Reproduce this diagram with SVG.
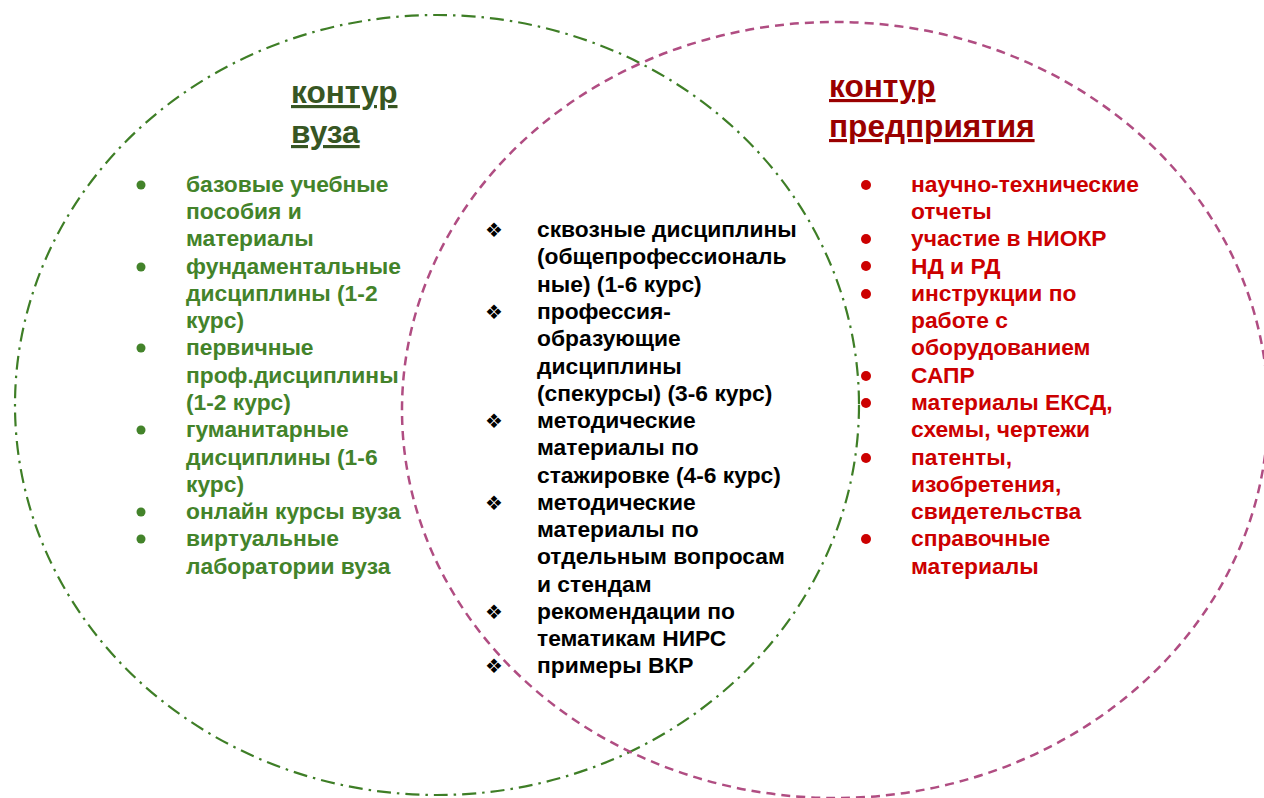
<svg xmlns="http://www.w3.org/2000/svg" width="1264" height="798" viewBox="0 0 1264 798">
<style>
.t{font-family:"Liberation Sans",Arial,sans-serif;font-weight:bold;font-size:22.8px}
.g{fill:#43832A}
.k{fill:#000}
.r{fill:#CC0000}
.title{font-family:"Liberation Sans",Arial,sans-serif;font-weight:bold;font-size:31.6px;text-decoration:underline}
.dia{font-family:"DejaVu Sans",sans-serif;font-size:20px;fill:#000}
</style>
<rect width="1264" height="798" fill="#fff"/>
<g id="contours">
<ellipse id="contour-vuz" cx="437" cy="405" rx="422" ry="390" fill="none" stroke="#3E7E26" stroke-width="2.2" stroke-dasharray="14 6 2.5 6"/>
<ellipse id="contour-pred" cx="835" cy="410" rx="433" ry="388" fill="none" stroke="#B04D82" stroke-width="2.5" stroke-dasharray="9 6"/>
</g>
<g id="node-vuz">
<text class="title" fill="#375623" x="291" y="103">контур</text>
<text class="title" fill="#375623" x="291" y="143">вуза</text>
<g class="t g">
<text x="186" y="192">базовые учебные</text>
<text x="186" y="219">пособия и</text>
<text x="186" y="246">материалы</text>
<text x="186" y="274">фундаментальные</text>
<text x="186" y="301">дисциплины (1-2</text>
<text x="186" y="328">курс)</text>
<text x="186" y="355">первичные</text>
<text x="186" y="383">проф.дисциплины</text>
<text x="186" y="410">(1-2 курс)</text>
<text x="186" y="437">гуманитарные</text>
<text x="186" y="465">дисциплины (1-6</text>
<text x="186" y="492">курс)</text>
<text x="186" y="519">онлайн курсы вуза</text>
<text x="186" y="546">виртуальные</text>
<text x="186" y="574">лаборатории вуза</text>
</g>
<g fill="#43832A">
<circle cx="141" cy="185" r="4.5"/>
<circle cx="141" cy="267" r="4.5"/>
<circle cx="141" cy="348" r="4.5"/>
<circle cx="141" cy="430" r="4.5"/>
<circle cx="141" cy="512" r="4.5"/>
<circle cx="141" cy="539" r="4.5"/>
</g>
</g>
<g id="node-common">
<g class="t k">
<text x="537" y="237">сквозные дисциплины</text>
<text x="537" y="264">(общепрофессиональ</text>
<text x="537" y="292">ные) (1-6 курс)</text>
<text x="537" y="319">профессия-</text>
<text x="537" y="346">образующие</text>
<text x="537" y="374">дисциплины</text>
<text x="537" y="401">(спекурсы) (3-6 курс)</text>
<text x="537" y="428">методические</text>
<text x="537" y="455">материалы по</text>
<text x="537" y="483">стажировке (4-6 курс)</text>
<text x="537" y="510">методические</text>
<text x="537" y="537">материалы по</text>
<text x="537" y="564">отдельным вопросам</text>
<text x="537" y="592">и стендам</text>
<text x="537" y="619">рекомендации по</text>
<text x="537" y="646">тематикам НИРС</text>
<text x="537" y="673">примеры ВКР</text>
</g>
<g class="dia">
<text x="485" y="237">❖</text>
<text x="485" y="319">❖</text>
<text x="485" y="428">❖</text>
<text x="485" y="510">❖</text>
<text x="485" y="619">❖</text>
<text x="485" y="673">❖</text>
</g>
</g>
<g id="node-pred">
<text class="title" fill="#9A0000" x="829" y="97">контур</text>
<text class="title" fill="#9A0000" x="829" y="137">предприятия</text>
<g class="t r">
<text x="911" y="192">научно-технические</text>
<text x="911" y="219">отчеты</text>
<text x="911" y="246">участие в НИОКР</text>
<text x="911" y="274">НД и РД</text>
<text x="911" y="301">инструкции по</text>
<text x="911" y="328">работе с</text>
<text x="911" y="355">оборудованием</text>
<text x="911" y="383">САПР</text>
<text x="911" y="410">материалы ЕКСД,</text>
<text x="911" y="437">схемы, чертежи</text>
<text x="911" y="465">патенты,</text>
<text x="911" y="492">изобретения,</text>
<text x="911" y="519">свидетельства</text>
<text x="911" y="546">справочные</text>
<text x="911" y="574">материалы</text>
</g>
<g fill="#CC0000">
<circle cx="866" cy="185" r="5"/>
<circle cx="866" cy="239" r="5"/>
<circle cx="866" cy="266" r="5"/>
<circle cx="866" cy="294" r="5"/>
<circle cx="866" cy="376" r="5"/>
<circle cx="866" cy="403" r="5"/>
<circle cx="866" cy="458" r="5"/>
<circle cx="866" cy="539" r="5"/>
</g>
</g>
</svg>
